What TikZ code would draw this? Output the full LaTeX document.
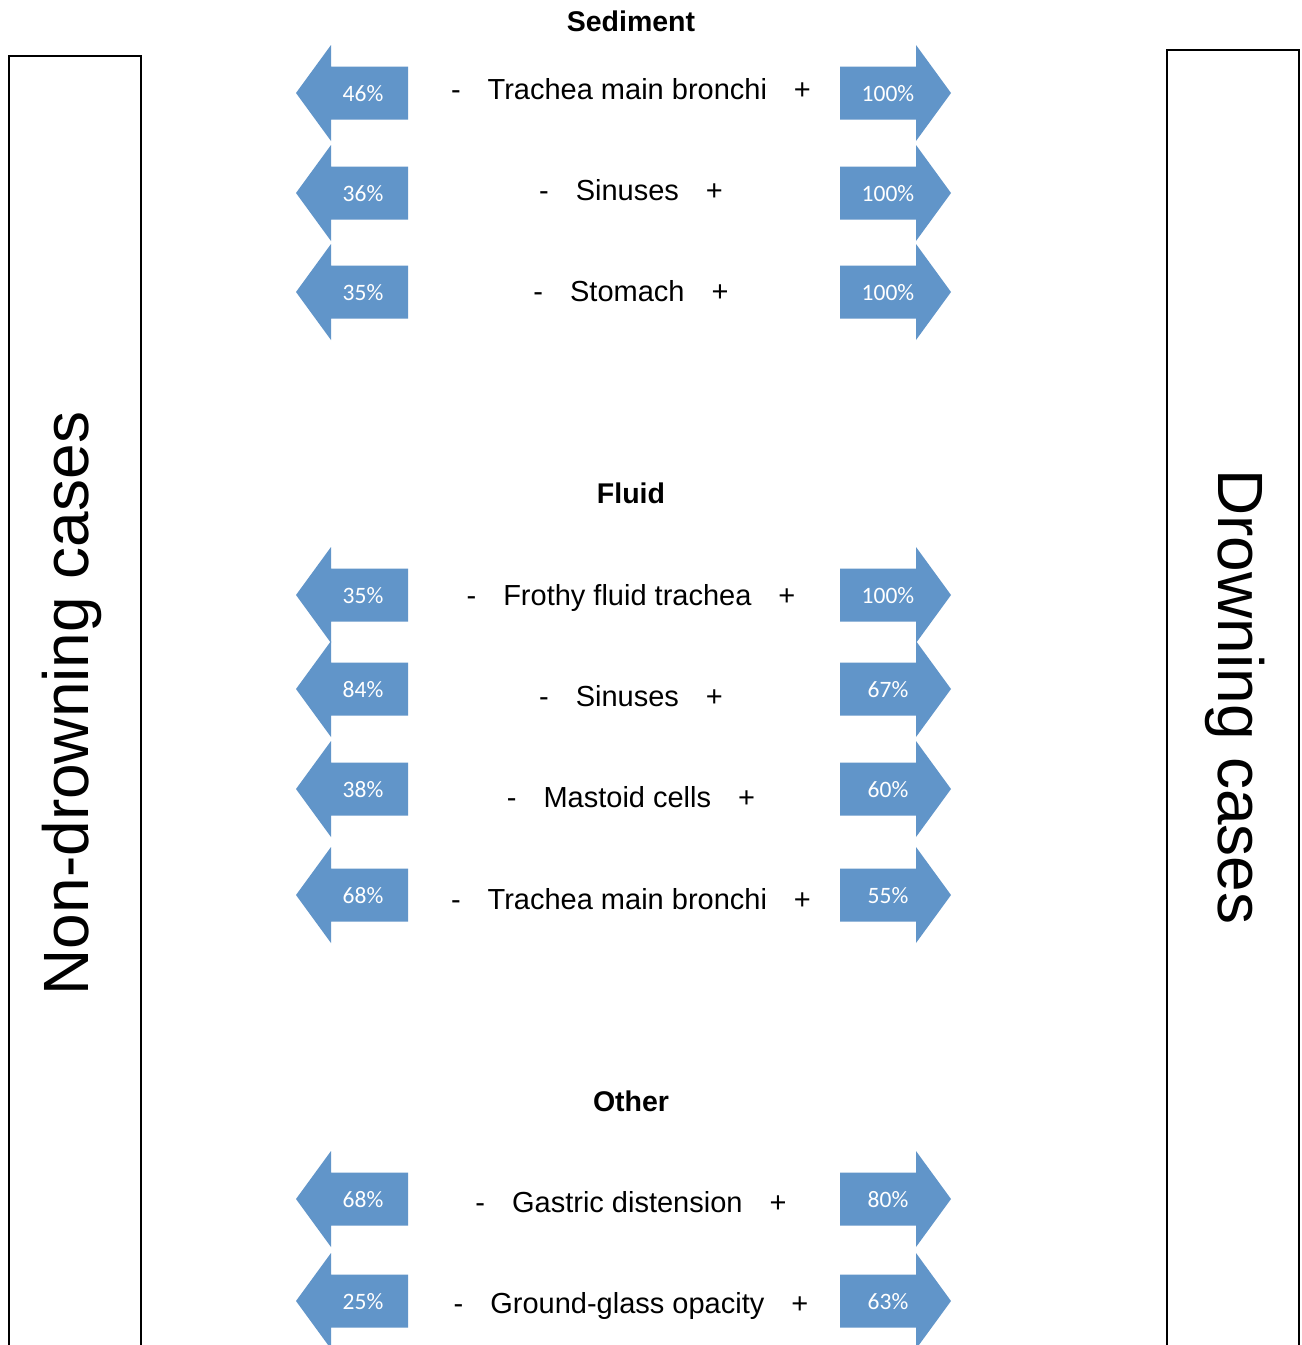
\documentclass[tikz,border=0pt]{standalone}
\usepackage{fontspec}
\setmainfont{Liberation Sans}
\newfontfamily\pctfont{Carlito}
\definecolor{arrowblue}{RGB}{97,149,201}
\tikzset{
  arrowshape/.style={fill=arrowblue},
  pct/.style={font=\pctfont\fontsize{23.5}{23.5}\selectfont, text=white, anchor=base, inner sep=0pt},
  lbl/.style={font=\fontsize{29}{29}\selectfont, anchor=base, inner sep=0pt},
  heading/.style={font=\bfseries\fontsize{28.5}{28.5}\selectfont, anchor=base, inner sep=0pt},
  sidebox/.style={draw=black, line width=2pt},
  big/.style={font=\fontsize{64}{64}\selectfont, anchor=base, inner sep=0pt},
}
% #1 name, #2 arrow y, #3 left pct, #4 right pct, #5 label, #6 label center y
\newcommand\rowpair[6]{%
  \fill[arrowshape] (296,#2) -- (331,#2-48) -- (331,#2-26.5) -- (408,#2-26.5)
     -- (408,#2+26.5) -- (331,#2+26.5) -- (331,#2+48) -- cycle;
  \fill[arrowshape] (951,#2) -- (916,#2-48) -- (916,#2-26.5) -- (840,#2-26.5)
     -- (840,#2+26.5) -- (916,#2+26.5) -- (916,#2+48) -- cycle;
  \node[pct] (#1-l) at (363,#2+8) {#3};
  \node[pct] (#1-r) at (888,#2+8) {#4};
  \node[lbl] (#1-t) at (631,#6+10.5) {-\hspace{27pt}#5\hspace{27pt}+};
}
\begin{document}
\begin{tikzpicture}[x=1pt,y=-1pt]
  \useasboundingbox (0,0) rectangle (1302,1345);
  \clip (0,0) rectangle (1302,1345);
  \fill[white] (0,0) rectangle (1302,1345);
  % side boxes
  \draw[sidebox] (9,1380) -- (9,56) -- (141,56) -- (141,1380);
  \draw[sidebox] (1167,1380) -- (1167,50) -- (1299,50) -- (1299,1380);
  \node[big, rotate=90] (nondrown) at (88,703.5) {Non-drowning cases};
  \node[big, rotate=-90] (drown) at (1218,697) {Drowning cases};
  % headings
  \node[heading] (sediment) at (631,31) {Sediment};
  \node[heading] (fluid) at (631,503) {Fluid};
  \node[heading] (other) at (631,1111) {Other};
  % sediment
  \rowpair{s1}{93}{46\%}{100\%}{Trachea main bronchi}{89}
  \rowpair{s2}{193}{36\%}{100\%}{Sinuses}{190}
  \rowpair{s3}{292}{35\%}{100\%}{Stomach}{291}
  % fluid
  \rowpair{f1}{595}{35\%}{100\%}{Frothy fluid trachea}{595}
  \rowpair{f2}{689}{84\%}{67\%}{Sinuses}{696}
  \rowpair{f3}{789}{38\%}{60\%}{Mastoid cells}{797}
  \rowpair{f4}{895}{68\%}{55\%}{Trachea main bronchi}{899}
  % other
  \rowpair{o1}{1199}{68\%}{80\%}{Gastric distension}{1202}
  \rowpair{o2}{1301}{25\%}{63\%}{Ground-glass opacity}{1303}
\end{tikzpicture}
\end{document}
